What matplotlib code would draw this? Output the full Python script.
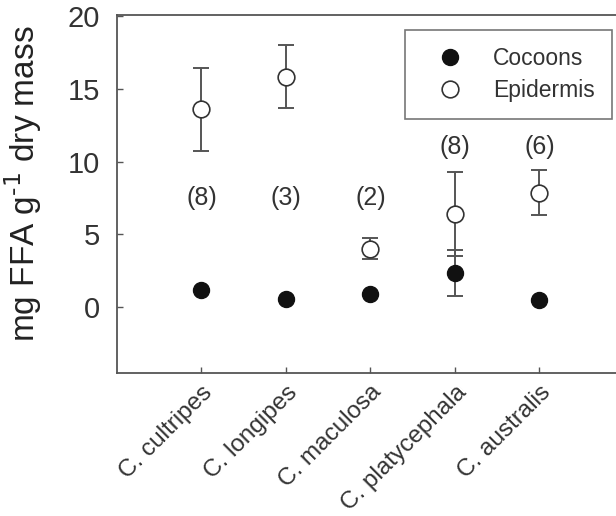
import matplotlib
matplotlib.use("Agg")
import matplotlib.pyplot as plt

species = ["C. cultripes", "C. longipes", "C. maculosa", "C. platycephala", "C. australis"]
cocoons = [1.17, 0.55, 0.9, 2.35, 0.48]
cocoons_err = [0.0, 0.0, 0.0, 1.6, 0.0]
epidermis = [13.6, 15.85, 4.0, 6.4, 7.85]
epidermis_err = [2.85, 2.15, 0.72, 2.9, 1.55]
n_labels = ["(8)", "(3)", "(2)", "(8)", "(6)"]
n_label_y = [7.5, 7.5, 7.5, 11.0, 11.0]
yticks = [0, 5, 10, 15, 20]

plt.rcParams['font.family'] = ['Liberation Sans', 'DejaVu Sans']
gray = '#555555'
txt = '#333333'

fig = plt.figure(figsize=(6.16, 5.16), dpi=100)
ax = fig.add_axes([117/616, 1-373/516, (624-117)/616, (373-15)/516])

x = list(range(1, len(species)+1))

ax.errorbar(x, epidermis, yerr=epidermis_err, fmt='none', ecolor=gray,
            elinewidth=1.4, capsize=6, capthick=1.4, zorder=2)
ax.errorbar(x, cocoons, yerr=cocoons_err, fmt='none', ecolor=gray,
            elinewidth=1.4, capsize=6, capthick=1.4, zorder=2)
ax.plot(x, cocoons, 'o', color='#111111', markersize=11.5, markeredgecolor='#111111',
        label='Cocoons', zorder=3)
ax.plot(x, epidermis, 'o', markerfacecolor='white', markeredgecolor='#333333',
        markeredgewidth=1.2, markersize=12, label='Epidermis', zorder=3)

for xi, lab, ly in zip(x, n_labels, n_label_y):
    ax.text(xi, ly, lab, ha='center', va='center', fontsize=18, color=txt)

ax.set_xlim(0, 6)
ax.set_ylim(-4.55, 20.1)
ax.set_yticks(yticks)
ax.set_yticklabels([str(t) for t in yticks])
ax.set_xticks(x)
ax.set_xticklabels(species, rotation=45, ha='right', va='top', rotation_mode='anchor',
                   fontsize=17.5, color=txt)
ax.tick_params(axis='y', direction='in', length=4, width=1, color=gray, labelsize=21,
               labelcolor=txt, pad=12, right=False)
ax.tick_params(axis='x', direction='in', length=4, width=1, color=gray, pad=6, top=False)
for s in ax.spines.values():
    s.set_color(gray)
    s.set_linewidth(1.3)

ax.set_ylabel('mg FFA g$^{\\text{-1}}$ dry mass', fontsize=24, color='#222222')
ax.yaxis.set_label_coords(-0.143, 0.53)

leg = ax.legend(loc='upper right', bbox_to_anchor=(612/616, 1-30/516), bbox_transform=fig.transFigure,
                fontsize=16.5, frameon=True, fancybox=False, edgecolor=gray,
                handletextpad=0.7, borderpad=0.75, labelspacing=0.38, borderaxespad=0,
                handlelength=2.4)
leg.get_frame().set_linewidth(1.2)
for t in leg.get_texts():
    t.set_color(txt)

fig.savefig('out.png', dpi=100)
